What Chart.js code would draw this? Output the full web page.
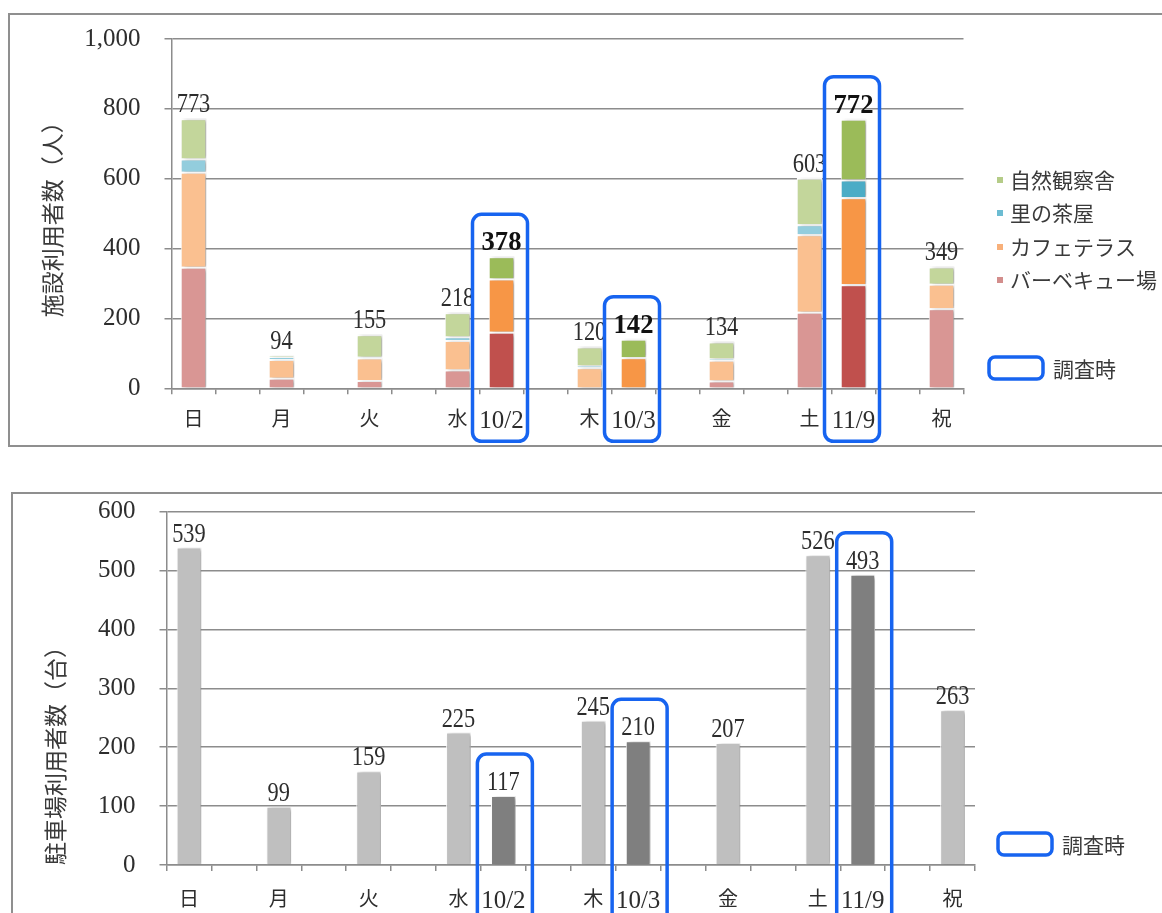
<!DOCTYPE html>
<html><head><meta charset="utf-8">
<script src="https://cdn.jsdelivr.net/npm/chart.js@4.4.1/dist/chart.umd.min.js"></script>
<style>
html,body{margin:0;padding:0;background:#fff;overflow:hidden;width:1162px;height:913px;}
.frame{position:absolute;border:2px solid #8f8f8f;background:#fff;}
#f1{left:8px;top:13px;width:1160px;height:430px;}
#f2{left:11px;top:492px;width:1160px;height:430px;}
canvas{display:block;}
</style></head><body>
<div class="frame" id="f1"><canvas id="c1"></canvas></div>
<div class="frame" id="f2"><canvas id="c2"></canvas></div>
<script>
// ---- data ----
const categories = ['日','','月','','火','','水','10/2','','木','10/3','','金','','土','11/9','','祝'];
const surveyFlags = [0,0,0,0,0,0,0,1,0,0,1,0,0,0,0,1,0,0];
const seriesNames = ['バーベキュー場','カフェテラス','里の茶屋','自然観察舎'];
const bbq    = [348,null,30,null,24,null,54,162,null,2,0,null,22,null,219,298,null,229];
const cafe   = [272,null,54,null,64,null,84,152,null,58,89,null,60,null,222,249,null,70];
const chaya  = [38,null,6,null,2,null,10,0,null,5,0,null,3,null,29,51,null,0];
const shizen = [115,null,4,null,65,null,70,64,null,55,53,null,49,null,133,174,null,50];
const facilityTotals = [773,null,94,null,155,null,218,378,null,120,142,null,134,null,603,772,null,349];
const parking = [539,null,99,null,159,null,225,117,null,245,210,null,207,null,526,493,null,263];
const topYTickLabels = ['0','200','400','600','800','1,000'];
const bottomYTickLabels = ['0','100','200','300','400','500','600'];
const surveyLegend = '調査時';
const topYTitle = '施設利用者数（人）';
const bottomYTitle = '駐車場利用者数（台）';

// ---- styles ----
const SERIF = '"Liberation Serif", "DejaVu Serif", serif';
const CJK = '"Noto Sans CJK JP", "Noto Sans", sans-serif';
const GRID = '#8c8c8c';
const BLUE = '#1764f0';
const pale  = ['#D99694','#FAC090','#93CDDD','#C3D69B'];
const vivid = ['#C0504D','#F79646','#4BACC6','#9BBB59'];
const legendMarker = ['#D38E8C','#F8B07A','#6CBCD2','#B5CC88'];

function decorPlugin(cfg){
  return {
    id: 'decor',
    beforeDatasetsDraw(chart){
      const ctx = chart.ctx;
      ctx.save();
      ctx.shadowColor = 'rgba(0,0,0,0.35)';
      ctx.shadowBlur = 4;
      ctx.shadowOffsetX = 3;
      ctx.shadowOffsetY = 1;
    },
    afterDatasetsDraw(chart){
      const ctx = chart.ctx;
      ctx.restore();
      const xs = chart.scales.x, ys = chart.scales.y;
      cfg.totals.forEach((v,i)=>{
        if (v == null) return;
        const px = xs.getPixelForValue(i), py = ys.getPixelForValue(v) - 6;
        const bold = cfg.boldSurvey && surveyFlags[i];
        ctx.save();
        ctx.translate(px, py);
        ctx.scale(bold ? 0.95 : 0.8, 1);
        ctx.font = (bold ? 'bold 28px ' : '28px ') + SERIF;
        ctx.fillStyle = bold ? '#111' : '#2d2d2d';
        ctx.textAlign = 'center';
        ctx.textBaseline = 'alphabetic';
        ctx.fillText(String(v), 0, 0);
        ctx.restore();
      });
    },
    afterDraw(chart){
      const ctx = chart.ctx;
      const xs = chart.scales.x, ys = chart.scales.y;
      const ca = chart.chartArea;
      ctx.save();
      ctx.strokeStyle = BLUE;
      ctx.lineWidth = 3.5;
      surveyFlags.forEach((f,i)=>{
        if (!f) return;
        const cx = xs.getPixelForValue(i) + cfg.boxDx;
        const w = 55;
        const top = ys.getPixelForValue(cfg.totals[i]) - 42;
        const bottom = ca.bottom + cfg.boxBottom;
        ctx.beginPath();
        ctx.roundRect(cx - w/2, top, w, bottom - top, 9);
        ctx.stroke();
      });
      // legend
      if (cfg.series) {
        ctx.font = '21px ' + CJK;
        ctx.textAlign = 'left';
        ctx.textBaseline = 'middle';
        const ys0 = [165,198,232,265];
        for (let k = 0; k < 4; k++) {
          const idx = 3 - k;
          ctx.fillStyle = legendMarker[idx];
          ctx.fillRect(987, ys0[k]-3, 6, 6);
          ctx.fillStyle = '#3a3a3a';
          ctx.fillText(seriesNames[idx], 1000, ys0[k]);
        }
      }
      const b = cfg.legendBox;
      ctx.strokeStyle = BLUE;
      ctx.lineWidth = 3.5;
      ctx.beginPath();
      ctx.roundRect(b.x, b.y, 54, 22, 6);
      ctx.stroke();
      ctx.font = '21px ' + CJK;
      ctx.fillStyle = '#3a3a3a';
      ctx.textAlign = 'left';
      ctx.textBaseline = 'middle';
      ctx.fillText(surveyLegend, b.x + 64, b.y + 12);
      ctx.restore();
    }
  };
}

function xScaleOpts(height, pad){
  return {
    type: 'category',
    offset: true,
    grid: { display: true, drawOnChartArea: false, drawTicks: true, tickLength: 6, color: GRID, lineWidth: 1.5, offset: true },
    border: { display: true, color: GRID, width: 1.5 },
    ticks: {
      autoSkip: false, maxRotation: 0, minRotation: 0, padding: pad, color: '#2d2d2d',
      font: (c) => {
        const l = categories[c.index] || '';
        return /^[0-9]/.test(l) ? {family: SERIF, size: 25} : {family: CJK, size: 20};
      }
    },
    afterFit(s){ s.height = height; s.paddingLeft = 0; s.paddingRight = 0; s.paddingTop = 0; s.paddingBottom = 0; }
  };
}
function yScaleOpts(width, max, step, labels, title, titleAlign, titlePad){
  return {
    min: 0, max: max,
    grid: { color: GRID, lineWidth: 1.5, tickLength: 7, drawTicks: true },
    border: { display: true, color: GRID, width: 1.5 },
    ticks: { stepSize: step, padding: 24, color: '#2d2d2d', font: {family: SERIF, size: 25},
      callback: (v, i) => labels[i] },
    title: { display: true, text: title, align: titleAlign, color: '#3a3a3a',
      font: {family: CJK, size: 23}, padding: {top: titlePad, bottom: 0} },
    afterFit(s){ s.width = width; s.paddingTop = 0; s.paddingBottom = 0; s.paddingLeft = 0; s.paddingRight = 0; }
  };
}

Chart.defaults.animation = false;

// ---- top chart ----
const topDatasets = [bbq, cafe, chaya, shizen].map((arr, k) => ({
  label: seriesNames[k],
  data: arr,
  backgroundColor: surveyFlags.map(f => f ? vivid[k] : pale[k]),
  borderColor: '#ffffff',
  borderWidth: {top: 2, left: 1, right: 1, bottom: 0},
  borderSkipped: false,
  barPercentage: 0.58,
  categoryPercentage: 1,
  stack: 's'
}));
const c1 = document.getElementById('c1');
c1.width = 1160; c1.height = 430;
new Chart(c1, {
  type: 'bar',
  data: { labels: categories, datasets: topDatasets },
  options: {
    responsive: false,
    layout: { padding: { left: 0, top: 24, right: 206.5, bottom: 0 } },
    plugins: { legend: { display: false }, tooltip: { enabled: false } },
    scales: {
      x: Object.assign(xScaleOpts(56.7, 12), { stacked: true }),
      y: Object.assign(yScaleOpts(161.5, 1000, 200, topYTickLabels, topYTitle, 'center', 28), { stacked: true })
    }
  },
  plugins: [decorPlugin({ totals: facilityTotals, boldSurvey: true, boxDx: -1.5, boxBottom: 53, series: true, legendBox: {x: 979, y: 342} })]
});

// ---- bottom chart ----
const c2 = document.getElementById('c2');
c2.width = 1160; c2.height = 430;
new Chart(c2, {
  type: 'bar',
  data: { labels: categories, datasets: [{
    label: '駐車場利用者数',
    data: parking,
    backgroundColor: surveyFlags.map(f => f ? '#7F7F7F' : '#BFBFBF'),
    borderColor: '#ffffff',
    borderWidth: {top: 1, left: 1, right: 1, bottom: 0},
    borderSkipped: false,
    barPercentage: 0.55,
    categoryPercentage: 1
  }] },
  options: {
    responsive: false,
    layout: { padding: { left: 0, top: 17.7, right: 198, bottom: 0 } },
    plugins: { legend: { display: false }, tooltip: { enabled: false } },
    scales: {
      x: xScaleOpts(59, 15),
      y: yScaleOpts(153.5, 600, 100, bottomYTickLabels, bottomYTitle, 'start', 28)
    }
  },
  plugins: [decorPlugin({ totals: parking, boldSurvey: false, boxDx: 1.5, boxBottom: 80, series: false, legendBox: {x: 985, y: 339} })]
});
</script>
</body></html>
